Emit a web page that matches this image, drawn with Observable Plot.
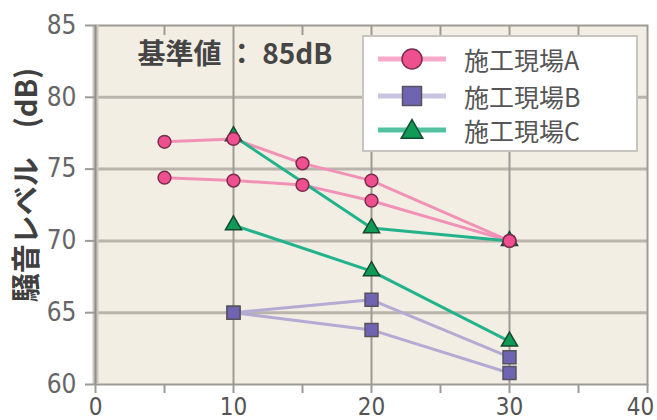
<!DOCTYPE html>
<html><head><meta charset="utf-8">
<script src="https://cdn.jsdelivr.net/npm/d3@7"></script>
<script src="https://cdn.jsdelivr.net/npm/@observablehq/plot@0.6"></script>
<style>
html,body{margin:0;padding:0;background:#fff;}
#wrap{position:relative;width:657px;height:420px;overflow:hidden;font-family:"Noto Sans CJK JP",sans-serif;}
#legend{position:absolute;left:362px;top:35px;width:272px;height:113px;background:#fff;border:2px solid #c8c5c0;}
.row{position:absolute;left:0;height:30px;display:flex;align-items:center;}
.row svg{display:block;}
.row span{font-size:25px;color:#555;margin-left:16px;line-height:30px;}
</style></head><body><div id="wrap"><div id="chart"></div><div id="legend"></div></div>
<script>
const xTicks = [0, 10, 20, 30, 40];
const yTicks = [60, 65, 70, 75, 80, 85];
const yGrid = [65, 70, 75, 80];
const xGrid = [10, 20, 30];
const minorX = [5, 15, 25, 35];
const seriesNames = ["施工現場A", "施工現場B", "施工現場C"];
const a1x = [5, 10, 15, 20, 30], a1y = [76.9, 77.1, 75.4, 74.2, 70.0];
const a2x = [5, 10, 15, 20, 30], a2y = [74.4, 74.2, 73.9, 72.8, 70.0];
const b1x = [10, 20, 30], b1y = [65.0, 65.9, 61.9];
const b2x = [10, 20, 30], b2y = [65.0, 63.8, 60.8];
const c1x = [10, 20, 30], c1y = [77.3, 70.9, 70.0];
const c2x = [10, 20, 30], c2y = [71.1, 67.9, 63.0];
const noteText = "基準値 ： 85dB";
const yLabel = "騒音レベル　(dB)";

const lineColors = ["#f291b8", "#b3abd3", "#22b38c"];
const legendLineColors = ["#f6a9c8", "#c9c3df", "#52c29e"];
const fillColors = ["#ee4f8e", "#6e64b2", "#0f9a55"];
const edgeColors = ["#7b2c4c", "#57535c", "#134a30"];
const symbols = ["circle", "square", "triangle"];
const radii = [6.4, 7.3, 6.0];

const rows = (xs, ys, s, id) => xs.map((x, i) => ({x, y: ys[i], series: seriesNames[s], line: id}));
const A = [...rows(a1x, a1y, 0, "a1"), ...rows(a2x, a2y, 0, "a2")];
const B = [...rows(b1x, b1y, 1, "b1"), ...rows(b2x, b2y, 1, "b2")];
const C = [...rows(c1x, c1y, 2, "c1"), ...rows(c2x, c2y, 2, "c2")];
const groups = [A, B, C];

const tickFont = "'Liberation Sans Narrow','DejaVu Sans Condensed','Liberation Sans',sans-serif";
const xLabelStyle = {tickSize: 0, tickPadding: 13, fill: "#555", fontSize: 24, fontFamily: tickFont, label: null};

const chart = Plot.plot({
  width: 657, height: 420,
  marginLeft: 95, marginRight: 10, marginTop: 25, marginBottom: 36,
  style: {fontFamily: "'Noto Sans CJK JP',sans-serif", background: "transparent", overflow: "visible"},
  x: {domain: [0, 40]},
  y: {domain: [60, 85]},
  marks: [
    Plot.frame({fill: "#f3eee3", stroke: null}),
    Plot.ruleY(yGrid, {stroke: "#b9b4ac", strokeWidth: 3}),
    Plot.ruleX(xGrid, {stroke: "#9e9a95", strokeWidth: 2}),
    Plot.ruleX(minorX, {y1: 85, y2: 84.3, stroke: "#9e9a95", strokeWidth: 2}),
    Plot.frame({stroke: "#9e9a95", strokeWidth: 2}),
    Plot.ruleX([0], {stroke: "#ccc7bf", strokeWidth: 6}),
    Plot.ruleX([0], {stroke: "#908c87", strokeWidth: 2}),
    Plot.axisY(yTicks, {tickSize: 10, tickPadding: 9, stroke: "#9e9a95", strokeWidth: 2, fill: "#666", fontSize: 26, fontFamily: tickFont, label: null}),
    Plot.axisX([...xTicks, ...minorX], {tickSize: 9, stroke: "#9e9a95", strokeWidth: 2, text: null, label: null}),
    Plot.axisX(xTicks.slice(0, -1), xLabelStyle),
    Plot.axisX(xTicks.slice(-1), {...xLabelStyle, dx: -7}),
    ...groups.map((g, s) => Plot.line(g, {x: "x", y: "y", z: "line", stroke: lineColors[s], strokeWidth: 3})),
    ...[2, 1, 0].map(s => Plot.dot(groups[s], {x: "x", y: "y", symbol: symbols[s], r: radii[s], fill: fillColors[s], stroke: edgeColors[s], strokeWidth: 1.5})),
    Plot.text([noteText], {frameAnchor: "top-left", dx: 42, dy: 30, textAnchor: "start", lineAnchor: "middle", fontSize: 28, fontWeight: "bold", fill: "#454545"}),
    Plot.text([yLabel], {frameAnchor: "left", dx: -68, dy: -20, rotate: -90, textAnchor: "middle", lineAnchor: "middle", fontSize: 29, fontWeight: "bold", fill: "#404040"})
  ]
});
document.getElementById("chart").appendChild(chart);

// legend
const legend = document.getElementById("legend");
const rowTops = [7, 44, 78];
seriesNames.forEach((name, s) => {
  const row = document.createElement("div");
  row.className = "row";
  row.style.top = rowTops[s] + "px";
  const ns = "http://www.w3.org/2000/svg";
  const svg = document.createElementNS(ns, "svg");
  svg.setAttribute("width", 84); svg.setAttribute("height", 30);
  const ln = document.createElementNS(ns, "line");
  ln.setAttribute("x1", 14); ln.setAttribute("x2", 82); ln.setAttribute("y1", 15); ln.setAttribute("y2", 15);
  ln.setAttribute("stroke", legendLineColors[s]); ln.setAttribute("stroke-width", 5);
  svg.appendChild(ln);
  const p = document.createElementNS(ns, "path");
  const area = s === 0 ? Math.PI * 100 : s === 1 ? 361 : 200;
  const sym = [d3.symbolCircle, d3.symbolSquare, d3.symbolTriangle][s];
  p.setAttribute("d", d3.symbol(sym, area)());
  p.setAttribute("transform", `translate(48,${s === 2 ? 17 : 15})`);
  p.setAttribute("fill", fillColors[s]); p.setAttribute("stroke", edgeColors[s]); p.setAttribute("stroke-width", 1.5);
  svg.appendChild(p);
  row.appendChild(svg);
  const t = document.createElement("span");
  t.textContent = name;
  row.appendChild(t);
  legend.appendChild(row);
});
</script></body></html>
